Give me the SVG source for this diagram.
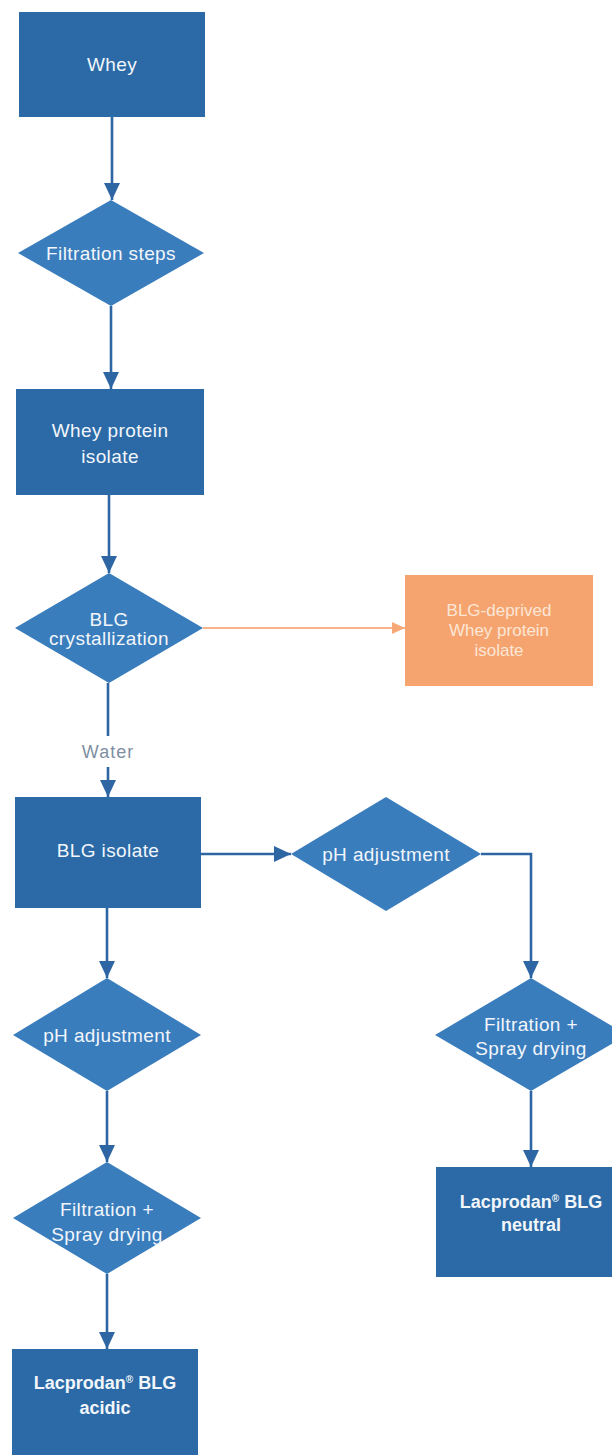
<svg xmlns="http://www.w3.org/2000/svg" width="612" height="1455" viewBox="0 0 612 1455">
  <style>
    .box { fill: #2B6AA6; }
    .dia { fill: #3A7DBD; }
    .obox { fill: #F5A46F; }
    .t { font-family: "Liberation Sans", Arial, sans-serif; font-size: 19px; fill: #F2F6FB; text-anchor: middle; letter-spacing: 0.4px; }
    .tb { font-family: "Liberation Sans", Arial, sans-serif; font-size: 18px; font-weight: bold; fill: #F2F6FB; text-anchor: middle; }
    .to { font-family: "Liberation Sans", Arial, sans-serif; font-size: 17px; fill: #FCE6D6; text-anchor: middle; }
    .lbl { font-family: "Liberation Sans", Arial, sans-serif; font-size: 18px; fill: #7F8FA3; text-anchor: middle; letter-spacing: 1px; }
    .c { fill: none; stroke: #2E66A3; stroke-width: 2.6; }
    .co { fill: none; stroke: #F7B48A; stroke-width: 2; }
    .sup { font-size: 10px; }
  </style>
  <defs>
    <marker id="ab" markerUnits="userSpaceOnUse" markerWidth="18" markerHeight="16" refX="17" refY="8" orient="auto">
      <path d="M0,0 L17,8 L0,16 Z" fill="#2E66A3"/>
    </marker>
    <marker id="ao" markerUnits="userSpaceOnUse" markerWidth="14" markerHeight="12" refX="13" refY="6" orient="auto">
      <path d="M0,0 L13,6 L0,12 Z" fill="#F7A877"/>
    </marker>
  </defs>

  <g id="connectors">
    <line class="c" x1="112" y1="117" x2="112" y2="200" marker-end="url(#ab)"/>
    <line class="c" x1="111" y1="306" x2="111" y2="389" marker-end="url(#ab)"/>
    <line class="c" x1="109" y1="495" x2="109" y2="573" marker-end="url(#ab)"/>
    <line class="co" x1="203" y1="628" x2="405" y2="628" marker-end="url(#ao)"/>
    <line class="c" x1="108" y1="683" x2="108" y2="736"/>
    <line class="c" x1="108" y1="767" x2="108" y2="797" marker-end="url(#ab)"/>
    <line class="c" x1="201" y1="854" x2="291" y2="854" marker-end="url(#ab)"/>
    <polyline class="c" points="481,854 531,854 531,978" marker-end="url(#ab)"/>
    <line class="c" x1="531" y1="1091" x2="531" y2="1167" marker-end="url(#ab)"/>
    <line class="c" x1="107" y1="908" x2="107" y2="978" marker-end="url(#ab)"/>
    <line class="c" x1="107" y1="1091" x2="107" y2="1162" marker-end="url(#ab)"/>
    <line class="c" x1="107" y1="1274" x2="107" y2="1349" marker-end="url(#ab)"/>
    <text class="lbl" x="108" y="758">Water</text>
  </g>

  <g id="whey">
    <rect class="box" x="19" y="12" width="186" height="105"/>
    <text class="t" x="112" y="71">Whey</text>
  </g>

  <g id="filtration-steps">
    <polygon class="dia" points="111,200 204,253 111,306 18,253"/>
    <text class="t" x="111" y="260">Filtration steps</text>
  </g>

  <g id="whey-protein-isolate">
    <rect class="box" x="16" y="389" width="188" height="106"/>
    <text class="t" x="110" y="437">Whey protein</text>
    <text class="t" x="110" y="463">isolate</text>
  </g>

  <g id="blg-crystallization">
    <polygon class="dia" points="109,573 203,628 109,683 15,628"/>
    <text class="t" x="109" y="626">BLG</text>
    <text class="t" x="109" y="645">crystallization</text>
  </g>

  <g id="blg-deprived">
    <rect class="obox" x="405" y="575" width="188" height="111"/>
    <text class="to" x="499" y="616">BLG-deprived</text>
    <text class="to" x="499" y="636">Whey protein</text>
    <text class="to" x="499" y="656">isolate</text>
  </g>

  <g id="blg-isolate">
    <rect class="box" x="15" y="797" width="186" height="111"/>
    <text class="t" x="108" y="857">BLG isolate</text>
  </g>

  <g id="ph-adjustment-right">
    <polygon class="dia" points="386,797 481,854 386,911 291,854"/>
    <text class="t" x="386" y="861">pH adjustment</text>
  </g>

  <g id="filtration-spray-right">
    <polygon class="dia" points="531,978 627,1035 531,1091 435,1035"/>
    <text class="t" x="531" y="1031">Filtration +</text>
    <text class="t" x="531" y="1055">Spray drying</text>
  </g>

  <g id="lacprodan-neutral">
    <rect class="box" x="436" y="1167" width="190" height="110"/>
    <text class="tb" x="531" y="1208">Lacprodan<tspan class="sup" dy="-6">®</tspan><tspan dy="6"> BLG</tspan></text>
    <text class="tb" x="531" y="1231">neutral</text>
  </g>

  <g id="ph-adjustment-left">
    <polygon class="dia" points="107,978 201,1035 107,1091 13,1035"/>
    <text class="t" x="107" y="1042">pH adjustment</text>
  </g>

  <g id="filtration-spray-left">
    <polygon class="dia" points="107,1162 201,1218 107,1274 13,1218"/>
    <text class="t" x="107" y="1216">Filtration +</text>
    <text class="t" x="107" y="1241">Spray drying</text>
  </g>

  <g id="lacprodan-acidic">
    <rect class="box" x="12" y="1349" width="186" height="106"/>
    <text class="tb" x="105" y="1389">Lacprodan<tspan class="sup" dy="-6">®</tspan><tspan dy="6"> BLG</tspan></text>
    <text class="tb" x="105" y="1414">acidic</text>
  </g>
</svg>
